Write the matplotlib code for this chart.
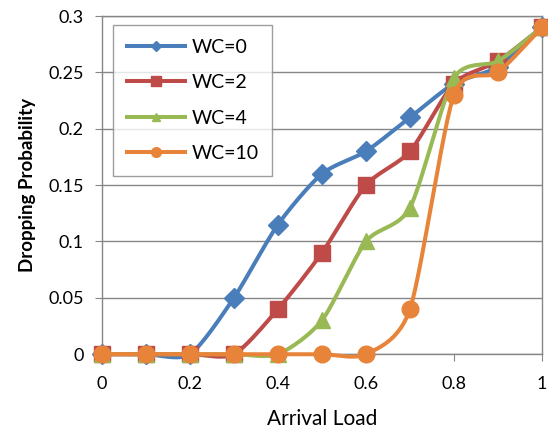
import matplotlib
matplotlib.use("Agg")
import matplotlib.pyplot as plt
import numpy as np

arrival_load = [0, 0.1, 0.2, 0.3, 0.4, 0.5, 0.6, 0.7, 0.8, 0.9, 1.0]
wc0 = [0, 0, 0, 0.05, 0.115, 0.16, 0.18, 0.21, 0.24, 0.255, 0.29]
wc2 = [0, 0, 0, 0, 0.04, 0.09, 0.15, 0.18, 0.24, 0.26, 0.29]
wc4 = [0, 0, 0, 0, 0, 0.03, 0.10, 0.13, 0.245, 0.26, 0.29]
wc10 = [0, 0, 0, 0, 0, 0, 0, 0.04, 0.23, 0.25, 0.29]
labels = ["WC=0", "WC=2", "WC=4", "WC=10"]

colors = ["#4A7EBB", "#BE4B48", "#98B954", "#E8843A"]
markers = ["D", "s", "^", "o"]
msizes = [10.5, 11, 12, 12]
leg_msizes = [5, 7, 6, 7]

plt.rcParams["font.family"] = ["Lato", "DejaVu Sans"]


def smooth(x, y, n=30, tension=0.75):
    # cubic Bezier through the points, control points from neighbour slopes
    x = np.asarray(x, float)
    y = np.asarray(y, float)
    px = np.concatenate([[x[0]], x, [x[-1]]])
    py = np.concatenate([[y[0]], y, [y[-1]]])
    t = np.linspace(0, 1, n)
    k = tension / 6.0
    xs, ys = [], []
    for i in range(1, len(px) - 2):
        for p, out in ((px, xs), (py, ys)):
            p0, p1, p2, p3 = p[i - 1], p[i], p[i + 1], p[i + 2]
            c1 = p1 + k * (p2 - p0)
            c2 = p2 - k * (p3 - p1)
            out.extend((1 - t) ** 3 * p1 + 3 * (1 - t) ** 2 * t * c1
                       + 3 * (1 - t) * t ** 2 * c2 + t ** 3 * p2)
    return xs, ys


fig = plt.figure(figsize=(5.48, 4.33), dpi=100)
ax = fig.add_axes([0.186, 0.182, 0.803, 0.781])

for i, (ys, lab, c, m) in enumerate(zip([wc0, wc2, wc4, wc10], labels, colors, markers)):
    sx, sy = smooth(arrival_load, ys)
    ax.plot(sx, sy, color=c, lw=2.9, zorder=3 + 2 * i, solid_capstyle="round",
            clip_on=False)
    ax.plot(arrival_load, ys, ls="none", marker=m, ms=msizes[i], color=c,
            zorder=4 + 2 * i, clip_on=False)
    ax.plot([], [], color=c, lw=2.9, marker=m, ms=leg_msizes[i], label=lab)

ax.set_xlim(0, 1)
ax.set_ylim(0, 0.3)
ax.set_xticks([0, 0.2, 0.4, 0.6, 0.8, 1])
ax.set_xticklabels(["0", "0.2", "0.4", "0.6", "0.8", "1"])
ax.set_yticks([0, 0.05, 0.1, 0.15, 0.2, 0.25, 0.3])
ax.set_yticklabels(["0", "0.05", "0.1", "0.15", "0.2", "0.25", "0.3"])
ax.grid(axis="y", color="#868686", lw=1.0)
ax.set_axisbelow(True)
for s in ax.spines.values():
    s.set_color("#868686")
    s.set_linewidth(1.0)
ax.tick_params(axis="both", colors="#868686", labelcolor="black", labelsize=13,
               length=5, direction="out")
ax.tick_params(axis="x", pad=11)
ax.tick_params(axis="y", pad=8)

ax.set_xlabel("Arrival Load", fontsize=15, labelpad=12)
ax.set_ylabel("Dropping Probability", fontsize=13.5, fontweight="bold", labelpad=9)

leg = ax.legend(loc="upper left", bbox_to_anchor=(0.025, 0.973), fontsize=14,
                frameon=True, fancybox=False, handlelength=3.0, handletextpad=0.35,
                labelspacing=0.95, borderpad=0.7, borderaxespad=0)
leg.get_frame().set_edgecolor("#868686")
leg.get_frame().set_linewidth(1.0)
leg.set_zorder(20)

plt.savefig("out.png", dpi=100)
